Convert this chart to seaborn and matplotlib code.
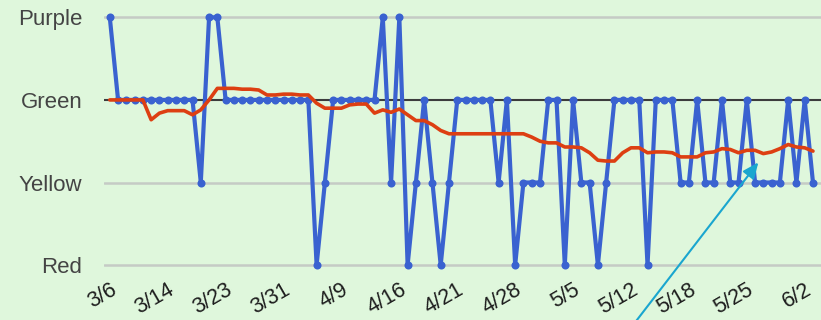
import matplotlib
matplotlib.use('Agg')
from matplotlib import pyplot as plt
import numpy as np
import pandas as pd
import seaborn as sns

# categories: Red=0, Yellow=1, Green=2, Purple=3
levels = ["Red", "Yellow", "Green", "Purple"]

daily = [3, 2, 2, 2, 2, 2, 2, 2, 2, 2, 2, 1, 3, 3, 2, 2, 2, 2, 2, 2,
         2, 2, 2, 2, 2, 0, 1, 2, 2, 2, 2, 2, 2, 3, 1, 3, 0, 1, 2, 1,
         0, 1, 2, 2, 2, 2, 2, 1, 2, 0, 1, 1, 1, 2, 2, 0, 2, 1, 1, 0,
         1, 2, 2, 2, 2, 0, 2, 2, 2, 1, 1, 2, 1, 1, 2, 1, 1, 2, 1, 1,
         1, 1, 2, 1, 2, 1]

trend = [2.00, 2.00, 2.00, 2.00, 2.00, 1.76, 1.84, 1.87, 1.87, 1.87,
         1.82, 1.88, 2.00, 2.14, 2.14, 2.14, 2.13, 2.13, 2.12, 2.06,
         2.06, 2.07, 2.07, 2.06, 2.06, 1.96, 1.90, 1.90, 1.90, 1.94,
         1.95, 1.95, 1.84, 1.88, 1.85, 1.89, 1.82, 1.75, 1.75, 1.70,
         1.63, 1.59, 1.59, 1.59, 1.59, 1.59, 1.59, 1.59, 1.59, 1.59,
         1.59, 1.55, 1.50, 1.48, 1.48, 1.43, 1.43, 1.42, 1.36, 1.27,
         1.26, 1.26, 1.36, 1.42, 1.42, 1.36, 1.37, 1.37, 1.36, 1.31,
         1.31, 1.31, 1.36, 1.37, 1.41, 1.40, 1.36, 1.39, 1.39, 1.35,
         1.37, 1.41, 1.46, 1.43, 1.42, 1.38]

date_labels = ["3/6", "3/14", "3/23", "3/31", "4/9", "4/16", "4/21",
               "4/28", "5/5", "5/12", "5/18", "5/25", "6/2"]
label_step = 7

bg = "#dff7dc"
sns.set_theme(style="white")
plt.rcParams['font.family'] = ['Liberation Sans', 'DejaVu Sans']

df = pd.DataFrame({"day": np.arange(len(daily)), "daily": daily, "trend": trend})

fig = plt.figure(figsize=(8.21, 3.20), dpi=100, facecolor=bg)
ax = fig.add_axes([104 / 821, 45 / 320, 717 / 821, 275 / 320])
ax.set_facecolor(bg)

for lv in range(len(levels)):
    if lv == 2:
        ax.axhline(lv, color="#3c3c3c", lw=1.5, zorder=1)
    else:
        ax.axhline(lv, color="#c5cbc5", lw=1.8, zorder=1)

sns.lineplot(data=df, x="day", y="daily", ax=ax, color="#3a62d0", lw=3,
             marker="o", markersize=5.8, markeredgewidth=0, zorder=3)
sns.lineplot(data=df, x="day", y="trend", ax=ax, color="#dd3f12", lw=2.6, zorder=4)

ax.set_xlim(-0.7, len(daily) - 1 + 0.97)
ax.set_ylim(-0.12, 3.21)
ax.set_yticks(range(len(levels)))
ax.set_yticklabels(levels, fontsize=16, color="#444444")
ax.set_xticks(range(0, len(daily), label_step))
ax.set_xticklabels(date_labels, fontsize=15.5, color="#1e1e1e", rotation=30,
                   ha="right", rotation_mode="anchor")
ax.tick_params(axis="y", length=0, pad=15.5)
ax.tick_params(axis="x", length=0, pad=3)
ax.set_xlabel("")
ax.set_ylabel("")
for s in ax.spines.values():
    s.set_visible(False)

ax.annotate("", xy=(78.6, 1.27), xycoords="data",
            xytext=(632 / 821, -0.02), textcoords="figure fraction",
            arrowprops=dict(arrowstyle="-|>,head_length=0.8,head_width=0.35",
                            color="#1aa6cf", lw=1.5),
            annotation_clip=False, zorder=5)

fig.savefig("out.png", dpi=100, facecolor=bg)
